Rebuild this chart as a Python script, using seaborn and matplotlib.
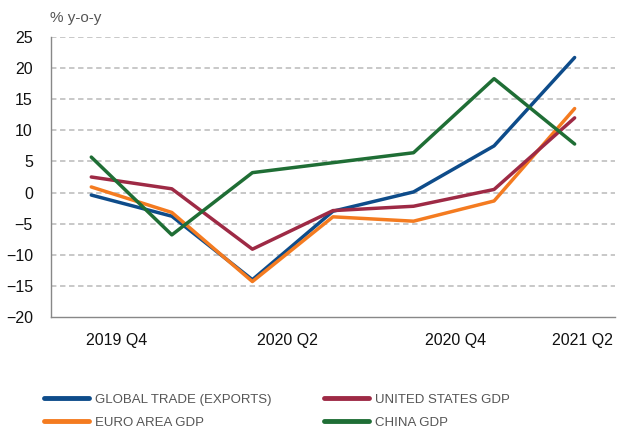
import pandas as pd
import numpy as np
import matplotlib
matplotlib.use("Agg")
import matplotlib.pyplot as plt
import seaborn as sns

# ==========================================================
# DATA
# ==========================================================

quarters = ["2019 Q4", "2020 Q1", "2020 Q2", "2020 Q3", "2020 Q4", "2021 Q1", "2021 Q2"]
tick_labels = ["2019 Q4", "2020 Q2", "2020 Q4", "2021 Q2"]

global_trade = [-0.4, -3.8, -14.0, -3.0, 0.1, 7.5, 21.7]
us_gdp = [2.5, 0.6, -9.1, -2.9, -2.2, 0.5, 12.0]
euro_gdp = [0.9, -3.2, -14.3, -3.9, -4.6, -1.35, 13.5]
china_gdp = [5.7, -6.8, 3.2, 4.8, 6.4, 18.3, 7.8]

series_names = ["GLOBAL TRADE (EXPORTS)", "EURO AREA GDP", "UNITED STATES GDP", "CHINA GDP"]
colors = ["#0E4C8A", "#F47B20", "#9E2A45", "#1F6E35"]

df = pd.DataFrame({
    "x": list(range(len(quarters))) * 4,
    "value": global_trade + euro_gdp + us_gdp + china_gdp,
    "series": np.repeat(series_names, len(quarters)),
})

# ==========================================================
# PLOT
# ==========================================================

sns.set_style("white")
plt.rcParams["font.family"] = ["Liberation Sans", "DejaVu Sans"]

fig = plt.figure(figsize=(6.19, 4.28), dpi=100)
ax = fig.add_axes([0.0824, 0.2593, 0.911, 0.6543])

sns.lineplot(
    data=df, x="x", y="value", hue="series",
    hue_order=series_names, palette=colors,
    linewidth=2.5, ax=ax, legend=False
)

ax.set_xlim(-0.5, len(quarters) - 0.5)
ax.set_ylim(-20, 25)
ax.set_yticks(range(-20, 30, 5))
ax.tick_params(axis="y", length=0, labelsize=11.5, pad=13, colors="#111111")

for y in range(-15, 30, 5):
    ax.axhline(y, color="#C4C4C4", linestyle=(0, (3, 2)), linewidth=1.3, zorder=0)

# tick marks between categories, labels placed separately
ax.set_xticks([1.5, 3.5, 5.5])
ax.set_xticklabels([])
ax.tick_params(axis="x", direction="in", length=5, color="#888888", width=1)
label_pos = [0.32, 2.43, 4.52, 6.1]
for pos, lab in zip(label_pos, tick_labels):
    ax.text(pos, -23.8, lab, ha="center", va="center", fontsize=11.5, color="#111111")

for side in ["top", "right"]:
    ax.spines[side].set_visible(False)
for side in ["left", "bottom"]:
    ax.spines[side].set_color("#888888")
    ax.spines[side].set_linewidth(1)

ax.set_xlabel("")
ax.set_ylabel("")
fig.text(0.081, 0.957, "% y-o-y", fontsize=11, color="#555555", va="center", ha="left")

handles = [plt.Line2D([], [], color=c, linewidth=3.5) for c in colors]
fig.legend(
    handles, series_names, ncol=2, frameon=False,
    loc="upper left", bbox_to_anchor=(0.071, 0.080),
    borderpad=0, borderaxespad=0,
    handlelength=3.4, handletextpad=0.45, columnspacing=4.0,
    labelspacing=0.78,
    prop={"size": 9.5},
    labelcolor="#555555",
)

plt.savefig("out.png", dpi=100)
plt.close()
